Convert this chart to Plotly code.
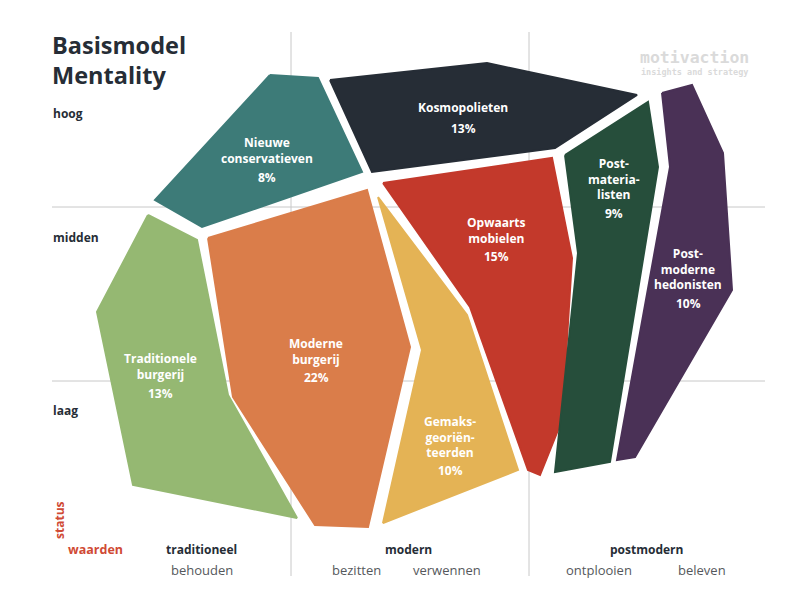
import plotly.graph_objects as go

# ---- data -------------------------------------------------------------
segments = ["Nieuwe conservatieven", "Kosmopolieten", "Traditionele burgerij",
            "Moderne burgerij", "Gemaksgeoriënteerden", "Opwaarts mobielen",
            "Post-materialisten", "Post-moderne hedonisten"]
label_lines = ["Nieuwe<br>conservatieven", "Kosmopolieten", "Traditionele<br>burgerij",
               "Moderne<br>burgerij", "Gemaks-<br>georiën-<br>teerden", "Opwaarts<br>mobielen",
               "Post-<br>materia-<br>listen", "Post-<br>moderne<br>hedonisten"]
shares = [8, 13, 13, 22, 10, 15, 9, 10]
colors = ["#3d7b78", "#262d36", "#95b872", "#da7d4a", "#e4b355", "#c3392b",
          "#264e3b", "#4a3156"]

# polygon outlines in the chart's value space (x: waarden, y: status)
poly_x = [
    [270, 318, 362, 202, 155],
    [330, 487, 637, 555, 372],
    [148, 197, 228, 297, 133, 97],
    [208, 367, 410, 368, 315, 233],
    [378, 467, 518, 383, 422],
    [383, 552, 572, 562, 540, 528, 470],
    [565, 648, 658, 610, 555, 578],
    [662, 692, 723, 732, 635, 617, 670],
]
poly_y = [
    [75, 78, 172, 227, 200],
    [80, 63, 95, 148, 172],
    [215, 240, 395, 518, 485, 312],
    [238, 190, 347, 527, 525, 397],
    [197, 315, 470, 523, 350],
    [183, 158, 258, 420, 475, 470, 307],
    [155, 102, 167, 462, 472, 253],
    [93, 85, 153, 290, 457, 460, 167],
]
label_x = [267, 463, 160, 316, 450, 496, 614, 688]
label_y = [150, 107, 366, 351, 437, 230, 179, 269]
pct_y = [177, 128, 393, 377, 470, 256, 213, 303]

status_levels = ["hoog", "midden", "laag"]
status_y = [113, 237, 410]
value_groups = ["traditioneel", "modern", "postmodern"]
value_group_x = [201, 408, 646]
value_subs = ["behouden", "bezitten", "verwennen", "ontplooien", "beleven"]
value_sub_x = [202, 356, 447, 599, 702]
col_bounds = [291, 529]
row_bounds = [207, 381]

# ---- figure -----------------------------------------------------------
FONT = "Open Sans, Lato, sans-serif"
fig = go.Figure()
grid = "#c8c8c8"
for cx in col_bounds:
    fig.add_trace(go.Scatter(x=[cx, cx], y=[32, 576], mode="lines",
                             line=dict(color=grid, width=1), hoverinfo="skip", showlegend=False))
for ry in row_bounds:
    fig.add_trace(go.Scatter(x=[52, 765], y=[ry, ry], mode="lines",
                             line=dict(color=grid, width=1), hoverinfo="skip", showlegend=False))

for name, xs, ys, c in zip(segments, poly_x, poly_y, colors):
    fig.add_trace(go.Scatter(x=xs + [xs[0]], y=ys + [ys[0]], fill="toself", fillcolor=c,
                             mode="lines", line=dict(color=c, width=2),
                             name=name, showlegend=False, hoveron="fills"))

ann = []
lab_font = dict(family=FONT, size=12, color="white", weight="bold")
for t, x, y, p, py in zip(label_lines, label_x, label_y, shares, pct_y):
    ann.append(dict(x=x, y=y, text=f"<b>{t}</b>", showarrow=False, font=lab_font,
                    xanchor="center", yanchor="middle"))
    ann.append(dict(x=x, y=py, text=f"<b>{p}%</b>", showarrow=False, font=lab_font,
                    xanchor="center", yanchor="middle"))

dark = "#262d36"
ann.append(dict(x=50, y=45, text="<b>Basismodel</b>", showarrow=False, xanchor="left", yanchor="middle",
                font=dict(family=FONT, size=23.5, color=dark)))
ann.append(dict(x=50, y=75, text="<b>Mentality</b>", showarrow=False, xanchor="left", yanchor="middle",
                font=dict(family=FONT, size=23.5, color=dark)))
for s, y in zip(status_levels, status_y):
    ann.append(dict(x=51, y=y, text=f"<b>{s}</b>", showarrow=False, xanchor="left", yanchor="middle",
                    font=dict(family=FONT, size=12, color=dark)))
for g, x in zip(value_groups, value_group_x):
    ann.append(dict(x=x, y=549, text=f"<b>{g}</b>", showarrow=False, xanchor="center", yanchor="middle",
                    font=dict(family=FONT, size=12, color=dark)))
for s, x in zip(value_subs, value_sub_x):
    ann.append(dict(x=x, y=570, text=s, showarrow=False, xanchor="center", yanchor="middle",
                    font=dict(family=FONT, size=13, color="#55585c")))
red = "#d04a35"
ann.append(dict(x=59, y=520, text="<b>status</b>", textangle=-90, showarrow=False,
                xanchor="center", yanchor="middle",
                font=dict(family=FONT, size=12, color=red)))
ann.append(dict(x=95, y=549, text="<b>waarden</b>", showarrow=False, xanchor="center", yanchor="middle",
                font=dict(family=FONT, size=12.5, color=red)))
ann.append(dict(x=694, y=57, text="<b>motivaction</b>", showarrow=False, xanchor="center", yanchor="middle",
                font=dict(family="DejaVu Sans Mono, monospace", size=16.5, color="#dadada")))
ann.append(dict(x=694, y=72, text="<b>insights and strategy</b>", showarrow=False, xanchor="center",
                yanchor="middle", font=dict(family="DejaVu Sans Mono, monospace", size=8.5, color="#dadada")))

# page body has an 8px margin: offset the value window so marks land where they belong
fig.update_layout(
    width=798, height=609, margin=dict(l=0, r=0, t=0, b=0),
    paper_bgcolor="white", plot_bgcolor="white",
    xaxis=dict(range=[8, 806], visible=False, fixedrange=True),
    yaxis=dict(range=[617, 8], visible=False, fixedrange=True),
    annotations=ann, showlegend=False,
)
fig.write_html("out.html")
